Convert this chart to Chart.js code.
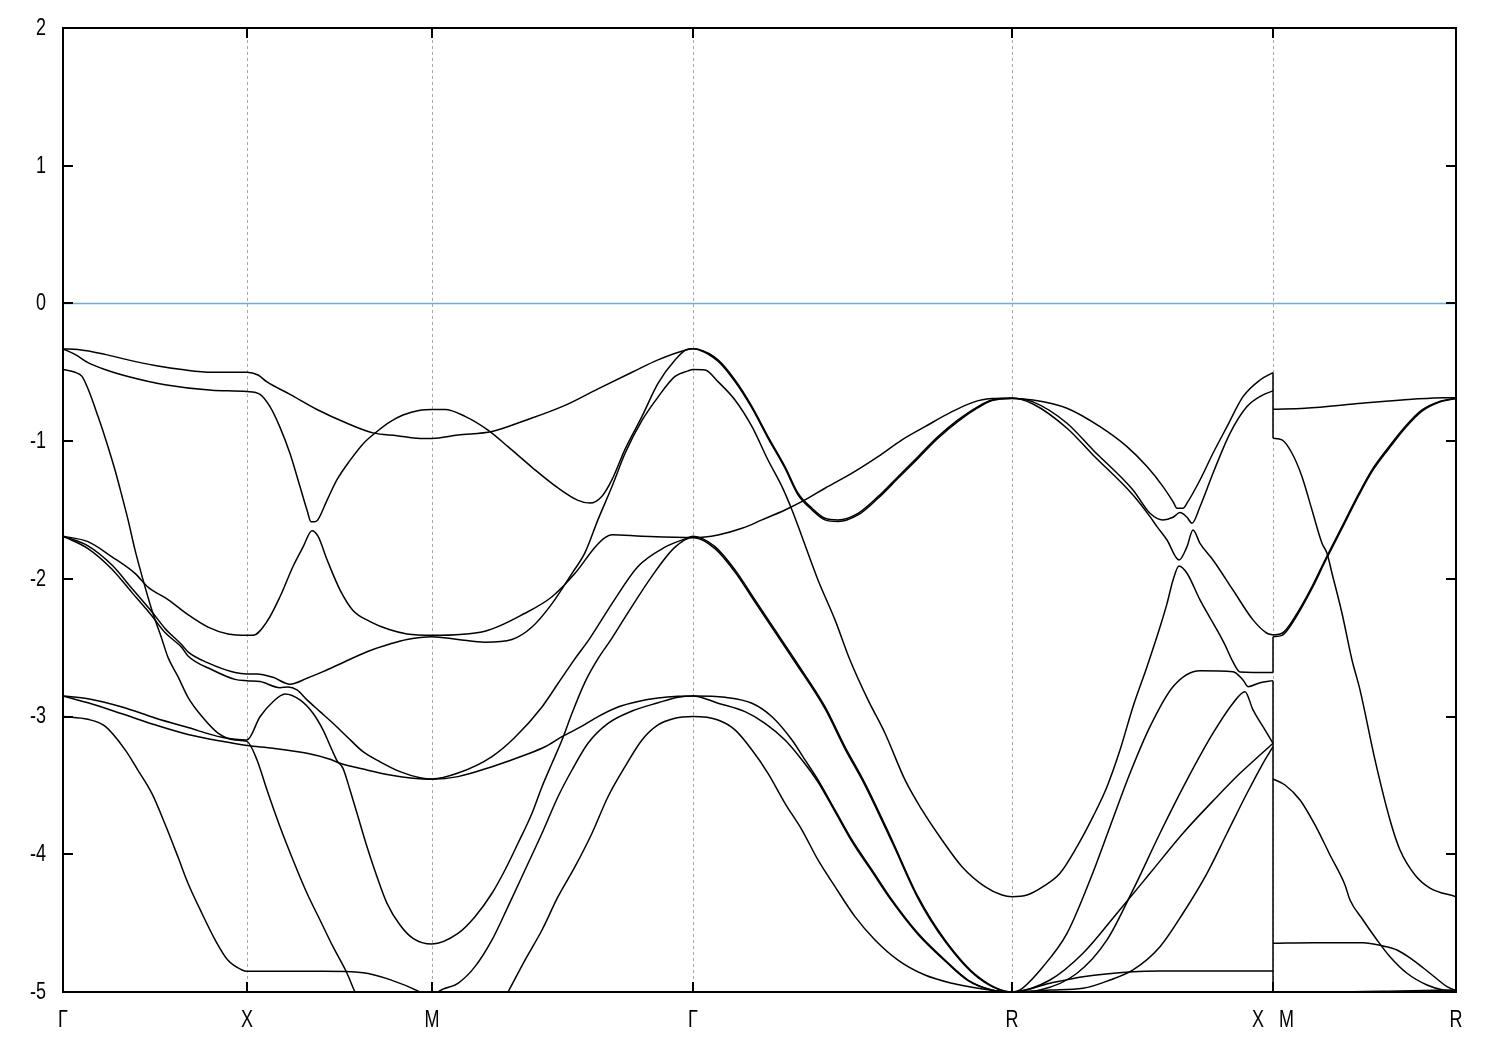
<!DOCTYPE html>
<html>
<head>
<meta charset="utf-8">
<script src="https://cdn.jsdelivr.net/npm/chart.js@4.4.1/dist/chart.umd.min.js"></script>
<style>
  html, body { margin: 0; padding: 0; background: #fff; }
  #wrap { width: 1500px; height: 1050px; }
</style>
</head>
<body>
<div id="wrap"><canvas id="bands" width="1500" height="1050"></canvas></div>
<script>
// path length of the high-symmetry points along G-X-M-G-R-X|M-R
var kTicks = [0, 1.84, 3.69, 6.30, 9.49, 12.10, 13.93];
var kLabels = ['Γ', 'X', 'M', 'Γ', 'R', 'X   M', 'R'];
var yTicks = [-5, -4, -3, -2, -1, 0, 1, 2];
var fermiLevel = 0;

// bands on G-X-M-G-R-X as [k, E]
var band1 = [[0,-0.33],[0.15,-0.335],[0.42,-0.37],[0.65,-0.41],[0.92,-0.45],[1.19,-0.48],[1.49,-0.50],[1.84,-0.50],
    [1.95,-0.52],[2.04,-0.57],[2.27,-0.66],[2.54,-0.77],[2.84,-0.87],[3.10,-0.94],[3.34,-0.96],[3.57,-0.98],[3.69,-0.98],
    [3.95,-0.955],[4.29,-0.93],[4.62,-0.85],[5.02,-0.74],[5.35,-0.62],[5.69,-0.50],[5.95,-0.41],[6.22,-0.34],[6.30,-0.33],
    [6.35,-0.333],[6.55,-0.41],[6.72,-0.556],[6.89,-0.749],[7.05,-0.967],[7.22,-1.185],[7.35,-1.378],[7.49,-1.487],[7.62,-1.56],[7.75,-1.572],[7.95,-1.524],[8.15,-1.403],[8.35,-1.258],[8.55,-1.113],[8.75,-0.967],[8.95,-0.846],[9.15,-0.749],[9.29,-0.701],[9.49,-0.688],
    [9.70,-0.715],[10.04,-0.87],[10.30,-1.064],[10.70,-1.354],[10.87,-1.524],[11.00,-1.572],[11.10,-1.553],[11.17,-1.519],[11.24,-1.553],[11.29,-1.596],[11.37,-1.476],[11.50,-1.233],[11.67,-0.943],[11.84,-0.749],[12.00,-0.664],[12.10,-0.635]];

var band2 = [[0,-0.33],[0.12,-0.37],[0.25,-0.43],[0.42,-0.48],[0.65,-0.53],[1.02,-0.59],[1.49,-0.63],[1.84,-0.64],
    [1.97,-0.66],[2.07,-0.75],[2.17,-0.90],[2.27,-1.09],[2.37,-1.33],[2.44,-1.50],[2.48,-1.585],[2.52,-1.585],[2.55,-1.57],[2.64,-1.43],[2.74,-1.28],[2.87,-1.14],[3.00,-1.02],[3.14,-0.93],[3.27,-0.86],[3.40,-0.81],[3.57,-0.775],[3.69,-0.77],
    [3.82,-0.77],[4.02,-0.82],[4.25,-0.92],[4.45,-1.04],[4.69,-1.19],[4.95,-1.34],[5.15,-1.43],[5.27,-1.45],[5.39,-1.40],[5.49,-1.28],[5.62,-1.06],[5.79,-0.82],[5.95,-0.58],[6.12,-0.41],[6.24,-0.335],[6.30,-0.33],
    [6.35,-0.335],[6.55,-0.42],[6.72,-0.568],[6.89,-0.761],[7.05,-0.979],[7.22,-1.197],[7.35,-1.39],[7.49,-1.499],[7.62,-1.572],[7.75,-1.584],[7.95,-1.536],[8.15,-1.415],[8.35,-1.27],[8.55,-1.125],[8.75,-0.979],[8.95,-0.856],[9.15,-0.757],[9.29,-0.706],[9.49,-0.69],
    [9.70,-0.701],[10.04,-0.761],[10.37,-0.895],[10.64,-1.04],[10.84,-1.185],[11.00,-1.33],[11.10,-1.439],[11.14,-1.487],[11.20,-1.487],[11.24,-1.45],[11.37,-1.282],[11.50,-1.088],[11.64,-0.895],[11.80,-0.677],[11.97,-0.556],[12.10,-0.503]];

var band3 = [[0,-0.48],[0.12,-0.50],[0.19,-0.53],[0.25,-0.62],[0.35,-0.82],[0.45,-1.04],[0.52,-1.21],[0.59,-1.40],[0.65,-1.57],[0.72,-1.79],[0.79,-1.98],[0.89,-2.23],[0.99,-2.44],[1.05,-2.57],[1.15,-2.71],[1.25,-2.86],[1.39,-3.00],[1.55,-3.12],[1.72,-3.17],[1.84,-3.18],
    [1.94,-3.315],[2.04,-3.533],[2.17,-3.80],[2.30,-4.041],[2.44,-4.283],[2.57,-4.477],[2.70,-4.671],[2.84,-4.864],[2.92,-5.0],[3.10,-5.25],[3.40,-5.5],[3.69,-5.6],
    [4.00,-5.5],[4.25,-5.25],[4.45,-5.0],[4.62,-4.768],[4.79,-4.55],[4.95,-4.308],[5.12,-4.09],[5.29,-3.847],[5.45,-3.582],[5.62,-3.364],[5.79,-3.17],[5.95,-3.061],[6.12,-3.012],[6.30,-3.0],
    [6.55,-3.025],[6.72,-3.097],[6.89,-3.243],[7.05,-3.412],[7.22,-3.63],[7.39,-3.824],[7.55,-4.041],[7.72,-4.235],[7.92,-4.453],[8.12,-4.622],[8.35,-4.768],[8.62,-4.877],[8.89,-4.937],[9.15,-4.973],[9.49,-5.0],
    [9.87,-4.937],[10.20,-4.889],[10.70,-4.853],[10.97,-4.848],[12.10,-4.848]];

var band4 = [[0,-1.69],[0.25,-1.73],[0.49,-1.84],[0.72,-1.96],[0.85,-2.06],[1.05,-2.15],[1.25,-2.26],[1.45,-2.35],[1.65,-2.40],[1.84,-2.41],
    [1.90,-2.41],[2.04,-2.31],[2.17,-2.13],[2.30,-1.91],[2.40,-1.77],[2.49,-1.65],[2.55,-1.69],[2.64,-1.86],[2.77,-2.08],[2.90,-2.23],[3.07,-2.31],[3.27,-2.37],[3.44,-2.40],[3.69,-2.41],
    [4.22,-2.38],[4.62,-2.25],[4.89,-2.13],[5.12,-1.96],[5.32,-1.77],[5.42,-1.70],[5.49,-1.68],[5.79,-1.69],[6.30,-1.70],
    [6.55,-1.681],[6.79,-1.633],[6.99,-1.572],[7.22,-1.50],[7.42,-1.427],[7.62,-1.342],[7.89,-1.233],[8.15,-1.113],[8.39,-0.991],[8.62,-0.895],[8.89,-0.786],[9.12,-0.713],[9.29,-0.691],[9.49,-0.686],
    [9.70,-0.73],[10.04,-0.906],[10.30,-1.10],[10.70,-1.391],[10.87,-1.548],[10.94,-1.621],[11.04,-1.718],[11.16,-1.863],[11.24,-1.766],[11.30,-1.645],[11.37,-1.742],[11.50,-1.863],[11.70,-2.081],[11.90,-2.298],[12.04,-2.395],[12.10,-2.407]];

var band5 = [[0,-1.69],[0.25,-1.76],[0.49,-1.90],[0.69,-2.07],[0.89,-2.24],[1.02,-2.36],[1.19,-2.48],[1.25,-2.53],[1.45,-2.61],[1.72,-2.68],[1.84,-2.69],
    [1.94,-2.69],[2.10,-2.715],[2.27,-2.765],[2.44,-2.722],[2.60,-2.674],[2.77,-2.618],[3.04,-2.529],[3.27,-2.473],[3.44,-2.44],[3.69,-2.42],
    [3.95,-2.44],[4.22,-2.46],[4.49,-2.44],[4.69,-2.35],[4.89,-2.18],[5.09,-1.96],[5.22,-1.81],[5.35,-1.57],[5.49,-1.33],[5.62,-1.09],[5.79,-0.85],[5.95,-0.68],[6.12,-0.53],[6.25,-0.49],[6.30,-0.48],
    [6.42,-0.483],[6.55,-0.568],[6.72,-0.701],[6.89,-0.895],[7.05,-1.137],[7.19,-1.33],[7.29,-1.50],[7.39,-1.694],[7.55,-2.008],[7.72,-2.298],[7.87,-2.589],[8.05,-2.879],[8.22,-3.121],[8.42,-3.46],[8.59,-3.678],[8.79,-3.896],[8.99,-4.09],[9.22,-4.235],[9.39,-4.296],[9.49,-4.308],
    [9.64,-4.296],[9.80,-4.235],[9.97,-4.138],[10.14,-3.945],[10.30,-3.727],[10.44,-3.509],[10.57,-3.243],[10.70,-2.928],[10.84,-2.638],[10.97,-2.35],[11.04,-2.18],[11.10,-2.01],[11.16,-1.906],[11.24,-1.959],[11.37,-2.153],[11.54,-2.371],[11.62,-2.48],[11.70,-2.603],[11.77,-2.676],[12.10,-2.68]];

var band6 = [[0,-1.69],[0.25,-1.78],[0.49,-1.93],[0.69,-2.10],[0.89,-2.27],[1.02,-2.39],[1.19,-2.50],[1.25,-2.56],[1.49,-2.66],[1.72,-2.73],[1.84,-2.74],
    [1.97,-2.746],[2.17,-2.79],[2.25,-2.785],[2.34,-2.807],[2.44,-2.879],[2.57,-2.964],[2.70,-3.049],[2.84,-3.146],[3.00,-3.255],[3.17,-3.328],[3.37,-3.40],[3.57,-3.444],[3.69,-3.453],
    [3.95,-3.41],[4.29,-3.29],[4.52,-3.15],[4.79,-2.93],[4.95,-2.76],[5.11,-2.59],[5.27,-2.43],[5.49,-2.18],[5.75,-1.91],[6.02,-1.77],[6.22,-1.71],[6.30,-1.69],
    [6.52,-1.766],[6.72,-1.935],[6.92,-2.153],[7.12,-2.371],[7.32,-2.589],[7.62,-2.928],[7.82,-3.219],[8.02,-3.484],[8.29,-3.896],[8.55,-4.308],[8.82,-4.622],[9.15,-4.889],[9.49,-5.0],
    [9.57,-4.985],[9.80,-4.816],[10.04,-4.574],[10.27,-4.187],[10.47,-3.80],[10.67,-3.412],[10.87,-3.073],[11.10,-2.783],[11.37,-2.667],[11.70,-2.674],[11.80,-2.734],[11.85,-2.783],[11.97,-2.754],[12.10,-2.739]];

var band7 = [[0,-2.85],[0.25,-2.87],[0.59,-2.93],[0.92,-3.01],[1.25,-3.08],[1.59,-3.15],[1.84,-3.17],
    [1.97,-3.001],[2.10,-2.892],[2.22,-2.836],[2.37,-2.879],[2.50,-2.976],[2.60,-3.097],[2.69,-3.243],[2.74,-3.32],[2.80,-3.376],[2.87,-3.533],[2.94,-3.702],[3.04,-3.945],[3.14,-4.163],[3.24,-4.356],[3.37,-4.513],[3.50,-4.61],[3.69,-4.651],
    [3.95,-4.574],[4.12,-4.453],[4.29,-4.283],[4.42,-4.114],[4.55,-3.92],[4.69,-3.702],[4.79,-3.509],[4.89,-3.339],[4.99,-3.17],[5.09,-2.976],[5.22,-2.75],[5.35,-2.58],[5.49,-2.43],[5.62,-2.28],[5.89,-1.98],[6.12,-1.77],[6.30,-1.70],
    [6.52,-1.78],[6.72,-1.95],[6.92,-2.168],[7.12,-2.386],[7.32,-2.604],[7.62,-2.943],[7.82,-3.234],[8.02,-3.499],[8.29,-3.911],[8.55,-4.32],[8.82,-4.632],[9.15,-4.895],[9.49,-5.0],
    [9.77,-4.985],[10.14,-4.864],[10.44,-4.622],[10.70,-4.259],[10.97,-3.847],[11.24,-3.46],[11.50,-3.121],[11.70,-2.903],[11.82,-2.819],[11.90,-2.952],[12.00,-3.073],[12.10,-3.194]];

var band8 = [[0,-2.85],[0.25,-2.90],[0.59,-2.98],[0.92,-3.06],[1.25,-3.13],[1.59,-3.18],[1.84,-3.21],
    [2.10,-3.23],[2.44,-3.267],[2.67,-3.31],[2.77,-3.339],[3.04,-3.388],[3.27,-3.424],[3.50,-3.448],[3.69,-3.455],
    [3.95,-3.436],[4.29,-3.364],[4.62,-3.279],[4.82,-3.219],[4.99,-3.146],[5.19,-3.07],[5.35,-3.00],[5.55,-2.93],[5.75,-2.89],[5.95,-2.865],[6.15,-2.852],[6.30,-2.85],
    [6.62,-2.86],[6.89,-2.903],[7.09,-3.001],[7.29,-3.17],[7.42,-3.315],[7.55,-3.46],[7.72,-3.678],[7.89,-3.896],[8.09,-4.114],[8.29,-4.332],[8.55,-4.574],[8.82,-4.768],[9.05,-4.913],[9.29,-4.985],[9.49,-5.0],
    [9.87,-4.913],[10.20,-4.719],[10.54,-4.428],[10.87,-4.138],[11.20,-3.847],[11.54,-3.582],[11.77,-3.412],[11.97,-3.279],[12.10,-3.194]];

var band9 = [[0,-3.00],[0.25,-3.02],[0.42,-3.07],[0.62,-3.24],[0.75,-3.39],[0.89,-3.56],[1.02,-3.78],[1.15,-4.02],[1.25,-4.21],[1.39,-4.43],[1.52,-4.62],[1.65,-4.77],[1.79,-4.84],[1.84,-4.85],
    [2.60,-4.85],[3.00,-4.86],[3.27,-4.91],[3.57,-5.00],[3.69,-5.05],
    [3.75,-5.0],[3.95,-4.937],[4.12,-4.816],[4.29,-4.622],[4.45,-4.38],[4.62,-4.114],[4.79,-3.847],[4.95,-3.582],[5.09,-3.388],[5.25,-3.194],[5.45,-3.05],[5.69,-2.96],[5.95,-2.90],[6.15,-2.86],[6.30,-2.85],
    [6.55,-2.903],[6.82,-2.964],[7.02,-3.049],[7.22,-3.17],[7.39,-3.315],[7.55,-3.475],[7.72,-3.69],[7.89,-3.908],[8.09,-4.126],[8.29,-4.342],[8.55,-4.582],[8.82,-4.774],[9.05,-4.917],[9.29,-4.987],[9.49,-5.0],
    [9.87,-4.985],[10.20,-4.973],[10.47,-4.913],[10.70,-4.84],[10.97,-4.671],[11.20,-4.428],[11.44,-4.138],[11.64,-3.847],[11.84,-3.557],[12.00,-3.339],[12.10,-3.218]];

// bands on the last M-R leg
var mrBand1 = [[12.10,-0.768],[12.42,-0.761],[12.99,-0.725],[13.49,-0.696],[13.82,-0.684],[13.93,-0.684]];
var mrBand2 = [[12.10,-0.979],[12.19,-0.991],[12.29,-1.088],[12.39,-1.258],[12.49,-1.50],[12.59,-1.741],[12.64,-1.814],[12.69,-1.959],[12.79,-2.25],[12.89,-2.589],[12.97,-2.806],[13.12,-3.315],[13.27,-3.751],[13.37,-3.969],[13.52,-4.15],[13.67,-4.245],[13.93,-4.308]];
var mrBand3 = [[12.10,-2.407],[12.19,-2.395],[12.32,-2.275],[12.49,-2.057],[12.62,-1.863],[12.79,-1.621],[12.96,-1.378],[13.09,-1.209],[13.26,-1.04],[13.42,-0.895],[13.59,-0.773],[13.76,-0.713],[13.93,-0.688]];
var mrBand4 = [[12.10,-2.42],[12.19,-2.41],[12.32,-2.29],[12.49,-2.07],[12.62,-1.876],[12.79,-1.634],[12.96,-1.391],[13.09,-1.222],[13.26,-1.053],[13.42,-0.906],[13.59,-0.782],[13.76,-0.718],[13.93,-0.69]];
var mrBand5 = [[12.10,-3.453],[12.22,-3.497],[12.37,-3.606],[12.52,-3.787],[12.67,-4.005],[12.82,-4.223],[12.87,-4.332],[13.00,-4.477],[13.14,-4.622],[13.27,-4.744],[13.44,-4.864],[13.64,-4.949],[13.80,-4.985],[13.93,-4.993]];
var mrBand6 = [[12.10,-4.646],[12.50,-4.642],[13.00,-4.642],[13.20,-4.666],[13.34,-4.695],[13.50,-4.768],[13.67,-4.864],[13.84,-4.961],[13.93,-4.99]];
var mrBand7 = [[12.10,-5.03],[12.90,-4.998],[13.37,-4.993],[13.93,-4.985]];

// energy at X and at M for each band index, joined at the X|M break
var xmJumps = [[-0.503,-0.768],[-0.635,-0.979],[-2.407,-2.407],[-2.68,-2.42],[-2.739,-3.453],[-3.194,-3.453],[-3.194,-4.646],[-3.218,-5.03],[-4.848,-5.6]];

function toXY(pts){
    return pts.map(function(p){ return {x: p[0], y: p[1]}; });
}

function jumpSegments(xk, pairs){
    var out = [];
    for (var i = 0; i < pairs.length; i++){
        out.push({x: xk, y: pairs[i][0]});
        out.push({x: xk, y: pairs[i][1]});
        out.push({x: xk, y: null});
    }
    return out;
}

var allBands = [band1, band2, band3, band4, band5, band6, band7, band8, band9,
    mrBand1, mrBand2, mrBand3, mrBand4, mrBand5, mrBand6, mrBand7];

var datasets = [];
datasets.push({
    data: [{x: kTicks[0], y: fermiLevel}, {x: kTicks[kTicks.length - 1], y: fermiLevel}],
    borderColor: '#56b4e9',
    borderWidth: 1.4,
    tension: 0
});
for (var i = 0; i < allBands.length; i++){
    datasets.push({
        data: toXY(allBands[i]),
        borderColor: '#000',
        borderWidth: 1.5,
        cubicInterpolationMode: 'monotone'
    });
}
datasets.push({ data: jumpSegments(kTicks[5], xmJumps), borderColor: '#000', borderWidth: 1.5, tension: 0 });

datasets.forEach(function(d){
    d.showLine = true;
    d.pointRadius = 0;
    d.fill = false;
    d.spanGaps = false;
});

// tic labels: the plot's font is tall and narrow, so draw them stretched
var labelFont = '18px "Liberation Sans", Arial, sans-serif';
var labelStretch = 1.38;

function stretchedText(ctx, text, x, y, align){
    ctx.save();
    ctx.translate(x, y);
    ctx.scale(1, labelStretch);
    ctx.textAlign = align;
    ctx.textBaseline = 'middle';
    ctx.fillText(text, 0, 0);
    ctx.restore();
}

// frame, inward tics and tic labels like gnuplot draws them
var framePlugin = {
    id: 'frame',
    afterDraw: function(chart){
        var ctx = chart.ctx, a = chart.chartArea;
        var xs = chart.scales.x, ys = chart.scales.y;
        ctx.save();
        ctx.strokeStyle = '#000';
        ctx.lineWidth = 2;
        ctx.beginPath();
        yTicks.forEach(function(v){
            var py = Math.round(ys.getPixelForValue(v));
            ctx.moveTo(a.left, py); ctx.lineTo(a.left + 10, py);
            ctx.moveTo(a.right, py); ctx.lineTo(a.right - 10, py);
        });
        kTicks.forEach(function(v){
            var px = Math.round(xs.getPixelForValue(v));
            ctx.moveTo(px, a.bottom); ctx.lineTo(px, a.bottom - 10);
            ctx.moveTo(px, a.top); ctx.lineTo(px, a.top + 10);
        });
        ctx.stroke();
        ctx.strokeRect(a.left, a.top, a.right - a.left, a.bottom - a.top);

        ctx.fillStyle = '#000';
        ctx.font = labelFont;
        yTicks.forEach(function(v){
            stretchedText(ctx, String(v), a.left - 17, ys.getPixelForValue(v), 'right');
        });
        kTicks.forEach(function(v, i){
            stretchedText(ctx, kLabels[i], xs.getPixelForValue(v), a.bottom + 28, 'center');
        });
        ctx.restore();
    }
};

new Chart(document.getElementById('bands'), {
    type: 'scatter',
    data: { datasets: datasets },
    plugins: [framePlugin],
    options: {
        responsive: false,
        animation: false,
        devicePixelRatio: 1,
        layout: { padding: { left: 0, top: 28, right: 44, bottom: 0 } },
        plugins: { legend: { display: false }, tooltip: { enabled: false } },
        scales: {
            x: {
                type: 'linear',
                min: kTicks[0],
                max: kTicks[kTicks.length - 1],
                afterBuildTicks: function(scale){
                    scale.ticks = kTicks.map(function(v){ return {value: v}; });
                },
                afterFit: function(scale){ scale.height = 58; },
                ticks: { display: false },
                grid: {
                    drawTicks: false,
                    lineWidth: 1,
                    color: function(ctx){
                        if (ctx.index === 0 || ctx.index === kTicks.length - 1) return 'rgba(0,0,0,0)';
                        return '#a8a8a8';
                    }
                },
                border: { display: false, dash: [3, 3] }
            },
            y: {
                type: 'linear',
                min: yTicks[0],
                max: yTicks[yTicks.length - 1],
                afterBuildTicks: function(scale){
                    scale.ticks = yTicks.map(function(v){ return {value: v}; });
                },
                afterFit: function(scale){ scale.width = 63; },
                ticks: { display: false },
                grid: { display: false, drawTicks: false },
                border: { display: false }
            }
        }
    }
});
</script>
</body>
</html>
